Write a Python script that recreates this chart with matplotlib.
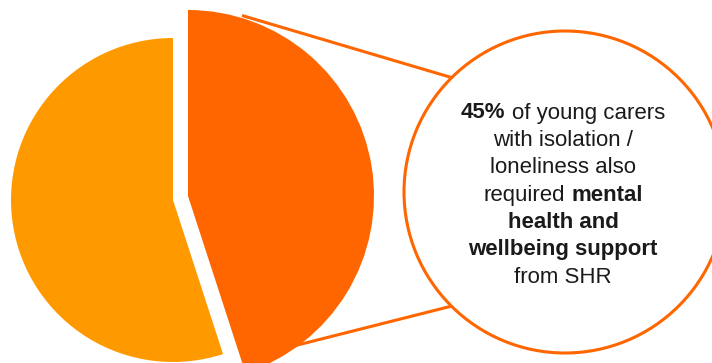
import matplotlib.pyplot as plt
from matplotlib.patches import Circle

# shares of young carers with isolation / loneliness
share_labels = ["other support", "mental health and wellbeing support"]
share_values = [0.55, 0.45]
share_colors = ["#FF9900", "#FF6600"]

# callout text, one row per line: (text, bold)
callout_lines = [
    [("45%", True), ("of young carers", False)],
    [("with isolation /", False)],
    [("loneliness also", False)],
    [("required", False), ("mental", True)],
    [("health and", True)],
    [("wellbeing support", True)],
    [("from SHR", False)],
]

W, H = 712, 363
fig = plt.figure(figsize=(W / 100, H / 100), dpi=100)
ax = fig.add_axes([0, 0, 1, 1])

# main slice, drawn counter-clockwise from the top
ax.pie([share_values[0]], colors=[share_colors[0]], startangle=90,
       counterclock=True, normalize=False, center=(173, 163), radius=162,
       wedgeprops=dict(linewidth=0))
# highlighted slice, pulled out and enlarged
ax.pie([share_values[1]], colors=[share_colors[1]], startangle=90,
       counterclock=False, normalize=False, center=(188, 167), radius=186,
       wedgeprops=dict(linewidth=0))

# connector lines to the callout circle
ax.plot([242, 453], [347.5, 285], color="#FF6600", lw=2.2, solid_capstyle="butt")
ax.plot([250, 452], [6, 57], color="#FF6600", lw=2.2, solid_capstyle="butt")

ax.add_patch(Circle((565, 171), 161, facecolor="white", edgecolor="#FF6600",
                    lw=2.2, zorder=3))

ax.set_xlim(0, W)
ax.set_ylim(0, H)
ax.set_aspect("auto")
ax.axis("off")

fig.canvas.draw()
renderer = fig.canvas.get_renderer()
font = dict(family="Liberation Sans", size=16, color="#1a1a1a")


def text_width(s, bold):
    t = ax.text(0, 0, s, fontweight="bold" if bold else "normal", **font)
    w = t.get_window_extent(renderer).width
    t.remove()
    return w


space = text_width("x x", False) - text_width("xx", False)
cx = 563
for i, segs in enumerate(callout_lines):
    y = H - (113 + 27.4 * i)
    widths = [text_width(s, b) for s, b in segs]
    total = sum(widths) + space * (len(segs) - 1)
    x = cx - total / 2
    for (s, b), w in zip(segs, widths):
        ax.text(x, y, s, fontweight="bold" if b else "normal",
                ha="left", va="center", zorder=4, **font)
        x += w + space

fig.savefig("out.png", dpi=100)
